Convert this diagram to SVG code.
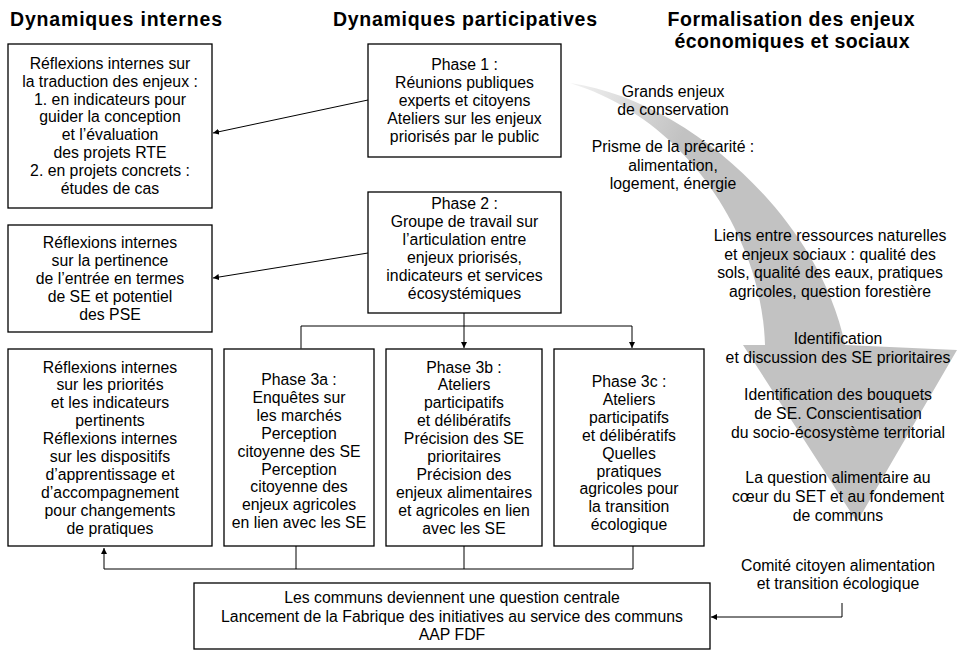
<svg xmlns="http://www.w3.org/2000/svg" width="959" height="651" viewBox="0 0 959 651">
<defs>
<style>
.h{font-family:"Liberation Sans",Arial,sans-serif;font-weight:bold;font-size:19.5px;fill:#000;text-anchor:middle}
.t{font-family:"Liberation Sans",Arial,sans-serif;font-size:15.8px;fill:#000;text-anchor:middle}
.box{fill:#fff;stroke:#000;stroke-width:1.3}
.c{fill:none;stroke:#000;stroke-width:1}
</style>
<marker id="ah" viewBox="0 0 10 10" refX="10" refY="5" markerWidth="6" markerHeight="6" markerUnits="userSpaceOnUse" orient="auto">
<path d="M0,0 L10,5 L0,10 z" fill="#000"/>
</marker>
<linearGradient id="tail" gradientUnits="userSpaceOnUse" x1="570" y1="83" x2="680" y2="140">
<stop offset="0" stop-color="#f2f2f2"/>
<stop offset="1" stop-color="#c2c2c2"/>
</linearGradient>
</defs>

<g id="big-arrow">
<path d="M570,83 C690,100 820,220 845,345 L957,350 L857,522 L743,345 L765,345 C762,240 690,120 570,83 Z" fill="url(#tail)"/>
</g>

<g id="headers">
<text class="h" x="116" y="26" textLength="212" lengthAdjust="spacing">Dynamiques internes</text>
<text class="h" x="465" y="26" textLength="264" lengthAdjust="spacing">Dynamiques participatives</text>
<text class="h" x="791" y="26" textLength="247" lengthAdjust="spacing">Formalisation des enjeux</text>
<text class="h" x="792" y="48" textLength="235" lengthAdjust="spacing">économiques et sociaux</text>
</g>

<g id="connectors">
<line class="c" x1="368" y1="100" x2="213" y2="133" marker-end="url(#ah)"/>
<line class="c" x1="368" y1="253" x2="213" y2="278" marker-end="url(#ah)"/>
<line class="c" x1="464" y1="313" x2="464" y2="348" marker-end="url(#ah)"/>
<polyline class="c" points="301,348 301,326 632,326 632,348" marker-start="url(#ah)" marker-end="url(#ah)"/>
<polyline class="c" points="633,546 633,569 104,569 104,548" marker-end="url(#ah)"/>
<line class="c" x1="296" y1="546" x2="296" y2="569"/>
<line class="c" x1="464" y1="546" x2="464" y2="569"/>
<polyline class="c" points="842,603 842,617 711,617" marker-end="url(#ah)"/>
</g>

<g id="n-reflexions-1">
<rect class="box" x="8" y="44" width="204" height="164"/>
<text class="t"><tspan x="110" y="69">Réflexions internes sur</tspan><tspan x="110" y="86.8">la traduction des enjeux :</tspan><tspan x="110" y="104.6">1. en indicateurs pour</tspan><tspan x="110" y="122.4">guider la conception</tspan><tspan x="110" y="140.2">et l’évaluation</tspan><tspan x="110" y="158">des projets RTE</tspan><tspan x="110" y="175.8">2. en projets concrets :</tspan><tspan x="110" y="193.6">études de cas</tspan></text>
</g>

<g id="n-phase1">
<rect class="box" x="368" y="44" width="193" height="113"/>
<text class="t"><tspan x="464.5" y="70">Phase 1 :</tspan><tspan x="464.5" y="88">Réunions publiques</tspan><tspan x="464.5" y="106">experts et citoyens</tspan><tspan x="464.5" y="124">Ateliers sur les enjeux</tspan><tspan x="464.5" y="142">priorisés par le public</tspan></text>
</g>

<g id="n-reflexions-2">
<rect class="box" x="8" y="225" width="204" height="107"/>
<text class="t"><tspan x="110" y="248">Réflexions internes</tspan><tspan x="110" y="266">sur la pertinence</tspan><tspan x="110" y="284">de l’entrée en termes</tspan><tspan x="110" y="302">de SE et potentiel</tspan><tspan x="110" y="320">des PSE</tspan></text>
</g>

<g id="n-phase2">
<rect class="box" x="368" y="192" width="193" height="121"/>
<text class="t"><tspan x="464.5" y="209">Phase 2 :</tspan><tspan x="464.5" y="227">Groupe de travail sur</tspan><tspan x="464.5" y="245">l’articulation entre</tspan><tspan x="464.5" y="263">enjeux priorisés,</tspan><tspan x="464.5" y="281">indicateurs et services</tspan><tspan x="464.5" y="299">écosystémiques</tspan></text>
</g>

<g id="n-reflexions-3">
<rect class="box" x="8" y="349" width="204" height="197"/>
<text class="t"><tspan x="110" y="372.5">Réflexions internes</tspan><tspan x="110" y="390.4">sur les priorités</tspan><tspan x="110" y="408.3">et les indicateurs</tspan><tspan x="110" y="426.2">pertinents</tspan><tspan x="110" y="444.1">Réflexions internes</tspan><tspan x="110" y="462">sur les dispositifs</tspan><tspan x="110" y="479.9">d’apprentissage et</tspan><tspan x="110" y="497.8">d’accompagnement</tspan><tspan x="110" y="515.7">pour changements</tspan><tspan x="110" y="533.6">de pratiques</tspan></text>
</g>

<g id="n-phase3a">
<rect class="box" x="224" y="349" width="150" height="197"/>
<text class="t"><tspan x="299" y="385">Phase 3a :</tspan><tspan x="299" y="402.9">Enquêtes sur</tspan><tspan x="299" y="420.8">les marchés</tspan><tspan x="299" y="438.7">Perception</tspan><tspan x="299" y="456.6">citoyenne des SE</tspan><tspan x="299" y="474.5">Perception</tspan><tspan x="299" y="492.4">citoyenne des</tspan><tspan x="299" y="510.3">enjeux agricoles</tspan><tspan x="299" y="528.2">en lien avec les SE</tspan></text>
</g>

<g id="n-phase3b">
<rect class="box" x="386" y="349" width="156" height="197"/>
<text class="t"><tspan x="464" y="372.5">Phase 3b :</tspan><tspan x="464" y="390.4">Ateliers</tspan><tspan x="464" y="408.3">participatifs</tspan><tspan x="464" y="426.2">et délibératifs</tspan><tspan x="464" y="444.1">Précision des SE</tspan><tspan x="464" y="462">prioritaires</tspan><tspan x="464" y="479.9">Précision des</tspan><tspan x="464" y="497.8">enjeux alimentaires</tspan><tspan x="464" y="515.7">et agricoles en lien</tspan><tspan x="464" y="533.6">avec les SE</tspan></text>
</g>

<g id="n-phase3c">
<rect class="box" x="554" y="349" width="150" height="197"/>
<text class="t"><tspan x="629" y="387">Phase 3c :</tspan><tspan x="629" y="404.9">Ateliers</tspan><tspan x="629" y="422.8">participatifs</tspan><tspan x="629" y="440.7">et délibératifs</tspan><tspan x="629" y="458.6">Quelles</tspan><tspan x="629" y="476.5">pratiques</tspan><tspan x="629" y="494.4">agricoles pour</tspan><tspan x="629" y="512.3">la transition</tspan><tspan x="629" y="530.2">écologique</tspan></text>
</g>

<g id="n-communs">
<rect class="box" x="194" y="583" width="516" height="66"/>
<text class="t"><tspan x="452" y="603">Les communs deviennent une question centrale</tspan><tspan x="452" y="621.5">Lancement de la Fabrique des initiatives au service des communs</tspan><tspan x="452" y="640">AAP FDF</tspan></text>
</g>

<g id="n-formalisation">
<text class="t"><tspan x="673" y="97">Grands enjeux</tspan><tspan x="673" y="115">de conservation</tspan></text>
<text class="t"><tspan x="673" y="152">Prisme de la précarité :</tspan><tspan x="673" y="170.5">alimentation,</tspan><tspan x="673" y="189">logement, énergie</tspan></text>
<text class="t"><tspan x="830" y="241">Liens entre ressources naturelles</tspan><tspan x="830" y="259.5">et enjeux sociaux : qualité des</tspan><tspan x="830" y="278">sols, qualité des eaux, pratiques</tspan><tspan x="830" y="296.5">agricoles, question forestière</tspan></text>
<text class="t"><tspan x="838" y="344">Identification</tspan><tspan x="838" y="363">et discussion des SE prioritaires</tspan></text>
<text class="t"><tspan x="838" y="400">Identification des bouquets</tspan><tspan x="838" y="419">de SE. Conscientisation</tspan><tspan x="838" y="438">du socio-écosystème territorial</tspan></text>
<text class="t"><tspan x="838" y="483">La question alimentaire au</tspan><tspan x="838" y="502">cœur du SET et au fondement</tspan><tspan x="838" y="520.5">de communs</tspan></text>
<text class="t"><tspan x="838" y="571">Comité citoyen alimentation</tspan><tspan x="838" y="589">et transition écologique</tspan></text>
</g>
</svg>
